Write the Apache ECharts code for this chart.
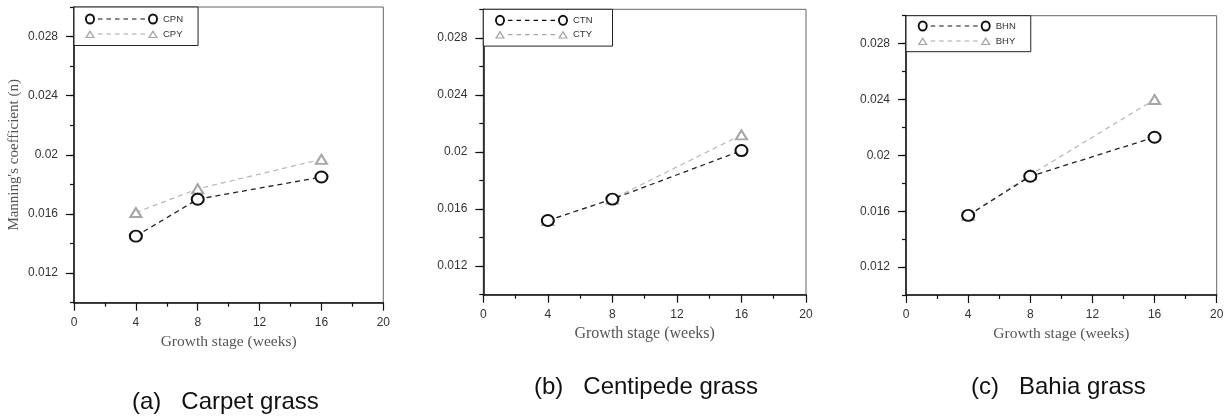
<!DOCTYPE html>
<html>
<head>
<meta charset="utf-8">
<script src="https://cdn.jsdelivr.net/npm/echarts@6/dist/echarts.min.js"></script>
<style>
html,body{margin:0;padding:0;background:#fff;}
#chart{width:1228px;height:417px;}
</style>
</head>
<body>
<div id="chart"></div>
<script>
// ---- data ----
const weeks = [4, 8, 16];
const xTicks = [0, 4, 8, 12, 16, 20];
const yTickLabels = [0.012, 0.016, 0.020, 0.024, 0.028];
const panelNames = ['(a)   Carpet grass', '(b)   Centipede grass', '(c)   Bahia grass'];
const seriesNamesN = ['CPN', 'CTN', 'BHN'];
const seriesNamesY = ['CPY', 'CTY', 'BHY'];
const cpn = [0.0145, 0.0170, 0.0185];
const cpy = [0.0161, 0.0177, 0.0197];
const ctn = [0.0152, 0.0167, 0.0201];
const cty = [0.0152, 0.0167, 0.0212];
const bhn = [0.0157, 0.0185, 0.0213];
const bhy = [0.0157, 0.0186, 0.0240];
const valuesN = [cpn, ctn, bhn];
const valuesY = [cpy, cty, bhy];

// ---- layout ----
const grids = [
  {left: 74, top: 7, width: 309.3, height: 295.7},
  {left: 483.3, top: 9.3, width: 322.7, height: 285.4},
  {left: 906, top: 15.7, width: 310.7, height: 279.3}
];
const xNameGap = [30, 28, 28];
const xNameSize = [15.5, 16, 15.5];
const legendPad = [[6.5, 15, 6, 11], [5.5, 20, 6, 11.7], [4.8, 15, 5.2, 11.7]];
const legendGap = [4, 3.3, 4];
const titlePos = [{left: 132, top: 390}, {left: 534, top: 375}, {left: 971, top: 375}];

const ringL = 'M0,5.5A5,5.5 0 1 0 10,5.5A5,5.5 0 1 0 0,5.5Z M1.9,5.5A3.1,3.6 0 1 1 8.1,5.5A3.1,3.6 0 1 1 1.9,5.5Z';
const ringR = 'M63,5.5A5,5.5 0 1 0 73,5.5A5,5.5 0 1 0 63,5.5Z M64.9,5.5A3.1,3.6 0 1 1 71.1,5.5A3.1,3.6 0 1 1 64.9,5.5Z';
const triL = 'M0,9.5L5,1.5L10,9.5Z M2.2,8.4L7.8,8.4L5,3.9Z';
const triR = 'M63,9.5L68,1.5L73,9.5Z M65.2,8.4L70.8,8.4L68,3.9Z';
const dashes = [13, 21.5, 30, 38.5, 47, 55.5].map(x => 'M' + x + ',4.9h4.5v1.2h-4.5Z').join(' ');
const anchors = 'M0,0 M73,11 ';
const iconCircle = 'path://' + anchors + ringL + ' ' + dashes + ' ' + ringR;
const iconTri = 'path://' + anchors + triL + ' ' + dashes + ' ' + triR;

const darkC = '#111111';
const grayC = '#a6a6a6';

const option = {
  backgroundColor: '#ffffff',
  animation: false,
  title: [],
  legend: [],
  grid: [],
  xAxis: [],
  yAxis: [],
  series: []
};

for (let k = 0; k < 3; k++) {
  option.grid.push(Object.assign({
    show: true, borderColor: '#666', borderWidth: 1, backgroundColor: 'transparent', containLabel: false
  }, grids[k]));

  option.title.push({
    text: panelNames[k],
    left: titlePos[k].left, top: titlePos[k].top, padding: 0,
    textStyle: {fontFamily: 'Liberation Sans, Arial, sans-serif', fontSize: 24, fontWeight: 'normal', color: '#111'}
  });

  option.legend.push({
    orient: 'vertical',
    left: grids[k].left, top: grids[k].top,
    padding: legendPad[k],
    itemGap: legendGap[k],
    itemWidth: 73, itemHeight: 11,
    symbolKeepAspect: true,
    borderColor: '#222', borderWidth: 1, backgroundColor: '#fff',
    selectedMode: false,
    textStyle: {fontFamily: 'Liberation Sans, Arial, sans-serif', fontSize: 9.5, color: '#333', padding: [0, 0, 0, 0]},
    data: [
      {name: seriesNamesN[k], icon: iconCircle, itemStyle: {color: darkC, borderWidth: 0, borderColor: 'transparent'}},
      {name: seriesNamesY[k], icon: iconTri, itemStyle: {color: grayC, borderWidth: 0, borderColor: 'transparent'}}
    ]
  });

  option.xAxis.push({
    type: 'value', gridIndex: k, min: 0, max: 20, interval: 4,
    name: 'Growth stage (weeks)', nameLocation: 'middle', nameGap: xNameGap[k],
    nameTextStyle: {fontFamily: 'Liberation Serif, Times New Roman, serif', fontSize: xNameSize[k], color: '#555'},
    axisLine: {show: true, onZero: false, lineStyle: {color: '#111', width: 1.5}},
    axisTick: {show: true, inside: false, length: 8, lineStyle: {color: '#111', width: 1.2}},
    minorTick: {show: true, splitNumber: 2, length: 4, lineStyle: {color: '#111', width: 1.2}},
    axisLabel: {margin: 14, fontFamily: 'Liberation Sans, Arial, sans-serif', fontSize: 12, color: '#333',
      customValues: xTicks},
    splitLine: {show: false}
  });

  // main y axis: labels + major ticks
  option.yAxis.push({
    type: 'value', gridIndex: k, min: 0.01, max: 0.03, interval: 0.002, position: 'left',
    name: k === 0 ? "Manning's coefficient (n)" : '',
    nameLocation: 'middle', nameGap: 52, nameRotate: 90,
    nameTextStyle: {fontFamily: 'Liberation Serif, Times New Roman, serif', fontSize: 15, color: '#555'},
    axisLine: {show: true, onZero: false, lineStyle: {color: '#111', width: 1.5}},
    axisTick: {show: true, inside: false, length: 8, customValues: yTickLabels, lineStyle: {color: '#111', width: 1.2}},
    axisLabel: {margin: 16, fontFamily: 'Liberation Sans, Arial, sans-serif', fontSize: 12, color: '#333',
      customValues: yTickLabels},
    splitLine: {show: false}
  });
  // secondary y axis: minor ticks every 0.002
  option.yAxis.push({
    type: 'value', gridIndex: k, min: 0.01, max: 0.03, interval: 0.002, position: 'left', offset: 0,
    axisLine: {show: false},
    axisTick: {show: true, inside: false, length: 4, lineStyle: {color: '#111', width: 1.2}},
    axisLabel: {show: false},
    splitLine: {show: false}
  });

  // gray triangle series first (below), then black circles on top
  option.series.push({
    name: seriesNamesY[k], type: 'line', xAxisIndex: k, yAxisIndex: 2 * k,
    data: weeks.map((w, i) => [w, valuesY[k][i]]),
    symbol: 'emptyTriangle', symbolSize: [11, 9],
    itemStyle: {color: grayC, borderWidth: 1.3},
    lineStyle: {color: '#b5b5b5', width: 1.2, type: [5, 4]},
    z: 2
  });
  option.series.push({
    name: seriesNamesN[k], type: 'line', xAxisIndex: k, yAxisIndex: 2 * k,
    data: weeks.map((w, i) => [w, valuesN[k][i]]),
    symbol: 'emptyCircle', symbolSize: [12, 11],
    itemStyle: {color: darkC, borderWidth: 2.2},
    lineStyle: {color: '#222', width: 1.3, type: [5, 4]},
    z: 3
  });
}

const chart = echarts.init(document.getElementById('chart'), null, {renderer: 'canvas'});
chart.setOption(option);
</script>
</body>
</html>
